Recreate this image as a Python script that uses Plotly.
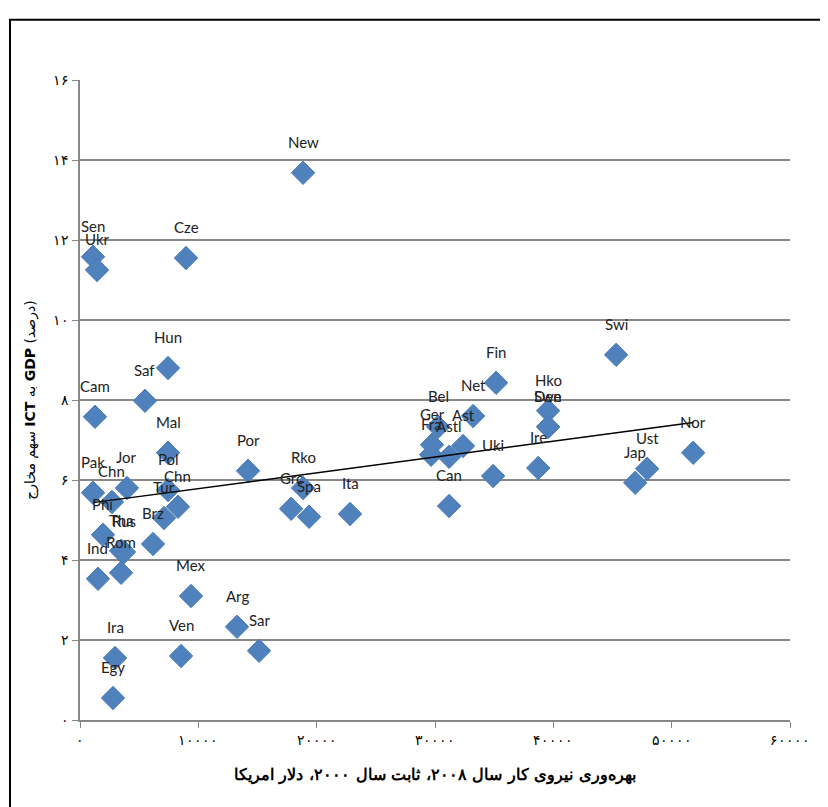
import numpy as np
import plotly.graph_objects as go

countries = ["Sen", "Ukr", "Cze", "New", "Hun", "Saf", "Cam", "Mal", "Por", "Jor",
             "Pak", "Pol", "Chn", "Chn", "Phi", "Tur", "Brz", "Tha", "Rus", "Rom",
             "Ind", "Mex", "Arg", "Sar", "Ven", "Ira", "Egy", "Rko", "Grc", "Spa",
             "Ita", "Fin", "Net", "Bel", "Ger", "Ast", "Fra", "Astl", "Can", "Hko",
             "Swe", "Den", "Uki", "Ire", "Ust", "Jap", "Nor", "Swi"]
productivity = [1100, 1440, 8960, 18850, 7440, 5490, 1270, 7440, 14200, 3970,
                1100, 7440, 2700, 8280, 1940, 7100, 6170, 3470, 3720, 3470,
                1520, 9380, 13270, 15130, 8540, 2960, 2790, 18850, 17840, 19360,
                22820, 35160, 33220, 30260, 29750, 32370, 29670, 31190, 31190, 39560,
                39560, 39560, 34910, 38720, 47930, 46920, 51820, 45310]
ict_share = [11.58, 11.25, 11.55, 13.68, 8.8, 7.98, 7.58, 6.68, 6.23, 5.8,
             5.68, 5.75, 5.45, 5.33, 4.63, 5.05, 4.4, 4.23, 4.2, 3.68,
             3.53, 3.1, 2.33, 1.73, 1.6, 1.55, 0.55, 5.8, 5.28, 5.08,
             5.15, 8.43, 7.6, 7.33, 6.88, 6.85, 6.63, 6.58, 5.35, 7.73,
             7.33, 7.33, 6.1, 6.3, 6.28, 5.93, 6.68, 9.13]

fa = str.maketrans("0123456789", "۰۱۲۳۴۵۶۷۸۹")
x_ticks = list(range(0, 60001, 10000))
y_ticks = list(range(0, 17, 2))

# linear trend line
slope, inter = np.polyfit(productivity, ict_share, 1)
tx = np.array([min(productivity), max(productivity)])

fig = go.Figure()
fig.add_trace(go.Scatter(x=productivity, y=ict_share, mode="markers",
                         marker=dict(symbol="diamond", size=18, color="#4F81BD",
                                     line=dict(width=1, color="#4a7ab5")),
                         showlegend=False))
fig.add_trace(go.Scatter(x=tx, y=slope * tx + inter, mode="lines",
                         line=dict(color="black", width=1.5), showlegend=False))

for name, xv, yv in zip(countries, productivity, ict_share):
    fig.add_annotation(x=xv, y=yv, text=name, showarrow=False, yshift=31,
                       font=dict(size=15, color="#222", family="Lato"))

fig.update_xaxes(range=[0, 60000], tickvals=x_ticks,
                 ticktext=[str(v).translate(fa) for v in x_ticks],
                 showgrid=False, zeroline=False, showline=True, linecolor="#888",
                 linewidth=2, ticks="outside", ticklen=6, tickcolor="#888",
                 tickfont=dict(size=14, family="DejaVu Serif", color="black"),
                 title=dict(text="<b>بهره‌وری نیروی کار سال ۲۰۰۸، ثابت سال ۲۰۰۰، دلار امریکا</b>",
                            standoff=22,
                            font=dict(size=16, family="DejaVu Serif", color="black")))
fig.update_yaxes(range=[0, 16], tickvals=y_ticks,
                 ticktext=[str(v).translate(fa) for v in y_ticks],
                 showgrid=True, gridcolor="#888", gridwidth=1.5, zeroline=False,
                 showline=True, linecolor="#888", linewidth=2, ticks="outside",
                 ticklen=6, tickcolor="#888",
                 tickfont=dict(size=14, family="DejaVu Serif", color="black"),
                 title=dict(text="سهم مخارج <b>ICT</b> به <b>GDP</b> (درصد)", standoff=14,
                            font=dict(size=14, family="DejaVu Sans", color="black")))

fig.add_shape(type="rect", xref="paper", yref="paper", x0=-0.0986, x1=1.0507,
              y0=-0.3, y1=1.094, line=dict(color="black", width=2))

fig.update_layout(width=828, height=807, margin=dict(l=72, r=46, t=72, b=95),
                  plot_bgcolor="white", paper_bgcolor="white")
fig.write_html("out.html")
